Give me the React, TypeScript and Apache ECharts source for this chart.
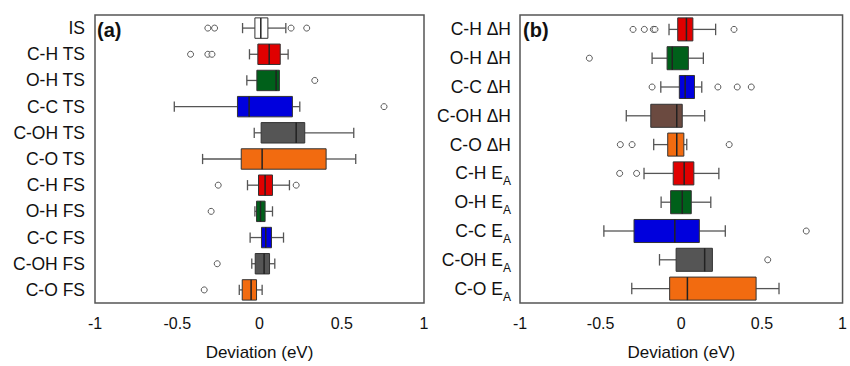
import React, { useEffect, useRef } from 'react';
import * as echarts from 'echarts';

const FONT = '"Liberation Sans", Arial, sans-serif';

const categoriesA = ['IS', 'C-H TS', 'O-H TS', 'C-C TS', 'C-OH TS', 'C-O TS', 'C-H FS', 'O-H FS', 'C-C FS', 'C-OH FS', 'C-O FS'];
const colorsA = ['#ffffff', '#e00000', '#00601a', '#0000dd', '#555555', '#f26b10', '#e00000', '#00601a', '#0000dd', '#555555', '#f26b10'];
// [whiskerLow, q1, median, q3, whiskerHigh]
const boxesA = [
  [-0.103, -0.028, 0.008, 0.051, 0.16],
  [-0.061, -0.01, 0.059, 0.126, 0.174],
  [-0.077, -0.016, 0.101, 0.121, 0.121],
  [-0.518, -0.134, -0.063, 0.2, 0.245],
  [-0.032, 0.01, 0.223, 0.275, 0.573],
  [-0.346, -0.111, 0.016, 0.405, 0.585],
  [-0.073, -0.006, 0.034, 0.079, 0.182],
  [-0.028, -0.018, 0.006, 0.034, 0.079],
  [-0.057, 0.012, 0.038, 0.073, 0.146],
  [-0.047, -0.026, 0.028, 0.061, 0.093],
  [-0.123, -0.105, -0.051, -0.018, 0.016],
];
// [value, category index]
const outliersA = [
  [-0.314, 0], [-0.273, 0], [0.192, 0], [0.287, 0],
  [-0.419, 1], [-0.314, 1], [-0.289, 1],
  [0.336, 2],
  [0.757, 3],
  [-0.251, 6], [0.223, 6],
  [-0.294, 7],
  [-0.257, 9],
  [-0.336, 10],
];

const categoriesB = ['C-H ΔH', 'O-H ΔH', 'C-C ΔH', 'C-OH ΔH', 'C-O ΔH', 'C-H E_A', 'O-H E_A', 'C-C E_A', 'C-OH E_A', 'C-O E_A'];
const colorsB = ['#e00000', '#00601a', '#0000dd', '#6b4a40', '#f26b10', '#e00000', '#00601a', '#0000dd', '#555555', '#f26b10'];
const boxesB = [
  [-0.076, -0.022, 0.032, 0.072, 0.213],
  [-0.181, -0.088, -0.056, 0.044, 0.137],
  [-0.127, -0.012, 0.024, 0.082, 0.127],
  [-0.341, -0.189, -0.028, 0.006, 0.145],
  [-0.171, -0.084, -0.028, 0.016, 0.034],
  [-0.231, -0.05, 0.018, 0.078, 0.233],
  [-0.125, -0.066, 0.006, 0.062, 0.183],
  [-0.48, -0.293, -0.04, 0.112, 0.273],
  [-0.135, -0.032, 0.145, 0.193, 0.193],
  [-0.307, -0.072, 0.038, 0.464, 0.606],
];
const outliersB = [
  [-0.299, 0], [-0.229, 0], [-0.173, 0], [-0.163, 0], [0.327, 0],
  [-0.57, 1],
  [-0.181, 2], [0.227, 2], [0.347, 2], [0.434, 2],
  [-0.378, 4], [-0.305, 4], [0.297, 4],
  [-0.382, 5], [-0.277, 5],
  [0.775, 7],
  [0.536, 8],
];

const xTickMin = -1;
const xTickMax = 1;
const xTickStep = 0.5;

function makeRender(colors: string[], boxFrac: number) {
  return (params: any, api: any) => {
    const idx = api.value(0);
    const wl = api.value(1);
    const q1 = api.value(2);
    const med = api.value(3);
    const q3 = api.value(4);
    const wh = api.value(5);
    const band = api.size([0, 1])[1];
    const bh = band * boxFrac;
    const cap = bh * 0.5;
    const y = api.coord([0, idx])[1];
    const xw1 = api.coord([wl, idx])[0];
    const xq1 = api.coord([q1, idx])[0];
    const xm = api.coord([med, idx])[0];
    const xq3 = api.coord([q3, idx])[0];
    const xw2 = api.coord([wh, idx])[0];
    const whiskerStyle = { stroke: '#555', lineWidth: 1.3 };
    const children: any[] = [];
    if (xw1 < xq1 - 0.5) {
      children.push({ type: 'line', shape: { x1: xw1, y1: y, x2: xq1, y2: y }, style: whiskerStyle });
      children.push({ type: 'line', shape: { x1: xw1, y1: y - cap / 2, x2: xw1, y2: y + cap / 2 }, style: whiskerStyle });
    }
    if (xw2 > xq3 + 0.5) {
      children.push({ type: 'line', shape: { x1: xq3, y1: y, x2: xw2, y2: y }, style: whiskerStyle });
      children.push({ type: 'line', shape: { x1: xw2, y1: y - cap / 2, x2: xw2, y2: y + cap / 2 }, style: whiskerStyle });
    }
    children.push({
      type: 'rect',
      shape: { x: xq1, y: y - bh / 2, width: xq3 - xq1, height: bh },
      style: { fill: colors[idx], stroke: '#333', lineWidth: 1 },
    });
    children.push({
      type: 'line',
      shape: { x1: xm, y1: y - bh / 2, x2: xm, y2: y + bh / 2 },
      style: { stroke: '#222', lineWidth: 1.5 },
    });
    return { type: 'group', children };
  };
}

export default function App() {
  const ref = useRef<HTMLDivElement>(null);
  useEffect(() => {
    if (!ref.current) return;
    const chart = echarts.init(ref.current, undefined, { renderer: 'svg' });
    const xAxisCommon = (gridIndex: number) => ({
      type: 'value',
      gridIndex,
      min: xTickMin,
      max: xTickMax,
      interval: xTickStep,
      name: 'Deviation (eV)',
      nameLocation: 'middle',
      nameGap: 41,
      nameTextStyle: { fontFamily: FONT, fontSize: 17, color: '#111' },
      axisLine: { show: false },
      axisTick: { show: false },
      splitLine: { show: false },
      axisLabel: {
        fontFamily: FONT,
        fontSize: 16,
        color: '#111',
        margin: 12,
        showMinLabel: true,
        showMaxLabel: true,
      },
    });
    const yAxisCommon = (gridIndex: number, cats: string[], margin: number) => ({
      type: 'category',
      gridIndex,
      data: cats,
      inverse: true,
      axisLine: { show: false },
      axisTick: { show: false },
      splitLine: { show: false },
      axisLabel: {
        fontFamily: FONT,
        fontSize: 17.5,
        color: '#111',
        margin,
        interval: 0,
        formatter: (v: string) => (v.endsWith('_A') ? `{m|${v.slice(0, -2)}}{s|A}` : v),
        rich: {
          m: { fontFamily: FONT, fontSize: 17.5, color: '#111' },
          s: { fontFamily: FONT, fontSize: 12, color: '#111', lineHeight: 12, padding: [11, 0, 0, 0], verticalAlign: 'top' },
        },
      },
    });
    const boxDataA = boxesA.map((b, i) => [i, ...b]);
    const boxDataB = boxesB.map((b, i) => [i, ...b]);
    const scatterStyle = {
      symbol: 'circle',
      symbolSize: 6,
      itemStyle: { color: '#fff', borderColor: '#333', borderWidth: 1 },
    };
    chart.setOption({
      animation: false,
      backgroundColor: '#fff',
      grid: [
        { left: 95, top: 15, width: 329, height: 299.5, show: true, borderColor: '#555', borderWidth: 1.5, backgroundColor: 'transparent' },
        { left: 520, top: 15, width: 331, height: 300, show: true, borderColor: '#555', borderWidth: 1.5, backgroundColor: 'transparent' },
      ],
      xAxis: [xAxisCommon(0), xAxisCommon(1)],
      yAxis: [yAxisCommon(0, categoriesA, 10), yAxisCommon(1, categoriesB, 9)],
      series: [
        {
          type: 'custom',
          xAxisIndex: 0,
          yAxisIndex: 0,
          renderItem: makeRender(colorsA, 0.78),
          encode: { x: [1, 2, 3, 4, 5], y: 0 },
          data: boxDataA,
          z: 2,
        },
        {
          type: 'scatter',
          xAxisIndex: 0,
          yAxisIndex: 0,
          data: outliersA,
          z: 3,
          ...scatterStyle,
        },
        {
          type: 'custom',
          xAxisIndex: 1,
          yAxisIndex: 1,
          renderItem: makeRender(colorsB, 0.8),
          encode: { x: [1, 2, 3, 4, 5], y: 0 },
          data: boxDataB,
          z: 2,
        },
        {
          type: 'scatter',
          xAxisIndex: 1,
          yAxisIndex: 1,
          data: outliersB,
          z: 3,
          ...scatterStyle,
        },
      ],
      graphic: [
        { type: 'text', left: 97, top: 20, style: { text: '(a)', fontFamily: FONT, fontSize: 20, fontWeight: 'bold', fill: '#111' } },
        { type: 'text', left: 523, top: 20, style: { text: '(b)', fontFamily: FONT, fontSize: 20, fontWeight: 'bold', fill: '#111' } },
      ],
    });
    return () => chart.dispose();
  }, []);
  return <div ref={ref} style={{ position: 'absolute', left: 0, top: 0, width: 850, height: 366 }} />;
}
